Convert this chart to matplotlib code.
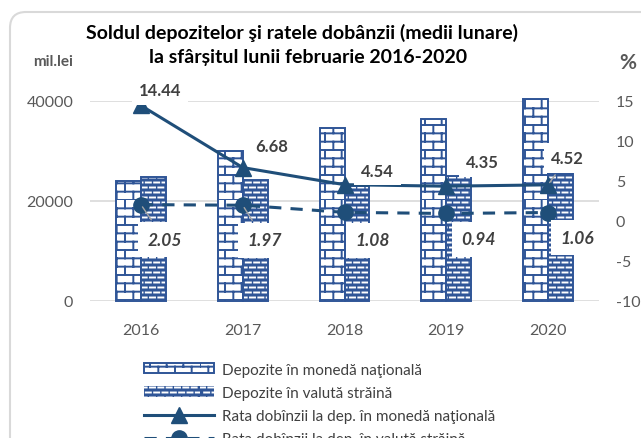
import warnings
import matplotlib
matplotlib.use("Agg")
import matplotlib.pyplot as plt
import numpy as np
from matplotlib import hatch as mhatch
from matplotlib.path import Path
from matplotlib.patches import FancyBboxPatch, Patch
from matplotlib.lines import Line2D
from matplotlib.transforms import IdentityTransform

warnings.filterwarnings("ignore")

plt.rcParams['font.family'] = ['Lato', 'DejaVu Sans']
plt.rcParams['hatch.linewidth'] = 1.4
plt.rcParams['axes.unicode_minus'] = False

# data
years = ["2016", "2017", "2018", "2019", "2020"]
dep_national = [24000, 30000, 34700, 36400, 40500]
dep_foreign = [24900, 24300, 23000, 25100, 25700]
rate_national = [14.44, 6.68, 4.54, 4.35, 4.52]
rate_foreign = [2.05, 1.97, 1.08, 0.94, 1.06]

# label offsets in pixels (layout only)
off_national = [(19, 15), (29, 22), (33, 14), (36, 24), (19, 27)]
off_foreign = [(24, -35), (22, -35), (28, -28), (32, -26), (29, -25)]

blue = "#2F5597"
dark = "#1F4E79"
grey_txt = "#404040"
tick_txt = "#595959"


# custom hatches: 'B' = bricks, 'W' = rows of short dashes
class BrickHatch(mhatch.HatchPatternBase):
    rows, cols = 12, 6

    def __init__(self, hatch, density):
        self.on = "B" in hatch
        self.num_vertices = (self.rows * 2 + self.rows * self.cols * 2) if self.on else 0

    def set_vertices_and_codes(self, vertices, codes):
        pts = []
        for r in range(self.rows):
            y = r / self.rows
            pts += [(0.0, y), (1.0, y)]
            shift = (r % 2) / (2 * self.cols)
            for j in range(self.cols):
                xv = j / self.cols + shift
                pts += [(xv, y), (xv, y + 1 / self.rows)]
        vertices[:] = pts
        codes[0::2] = Path.MOVETO
        codes[1::2] = Path.LINETO


class DashHatch(mhatch.HatchPatternBase):
    rows, cols, seg = 20, 12, 0.05

    def __init__(self, hatch, density):
        self.on = "W" in hatch
        self.num_vertices = self.rows * self.cols * 2 if self.on else 0

    def set_vertices_and_codes(self, vertices, codes):
        pts = []
        for r in range(self.rows):
            y = (r + 0.5) / self.rows
            shift = (r % 2) / (2 * self.cols)
            for j in range(self.cols):
                x0 = j / self.cols + shift
                pts += [(x0, y), (x0 + self.seg, y)]
        vertices[:] = pts
        codes[0::2] = Path.MOVETO
        codes[1::2] = Path.LINETO


mhatch._hatch_types.extend([BrickHatch, DashHatch])

fig = plt.figure(figsize=(6.41, 4.39), dpi=100)
ax = fig.add_axes([90 / 641, 137 / 439, 509 / 641, 200 / 439])
ax2 = ax.twinx()

x = np.arange(len(years))
w = 0.245

# national deposits: bricks
ax.bar(x - w / 2, dep_national, w, facecolor="white", edgecolor=blue,
       hatch="B", linewidth=1.4, zorder=2, clip_on=False)
# foreign deposits: blue with white dashes
ax.bar(x + w / 2, dep_foreign, w, facecolor=blue, edgecolor="white",
       hatch="W", linewidth=0, zorder=2, clip_on=False)
ax.bar(x + w / 2, dep_foreign, w, fill=False, edgecolor=blue,
       linewidth=1.4, zorder=2, clip_on=False)

ax.set_xlim(-0.5, len(years) - 0.5)
ax.set_ylim(0, 40000)
ax.set_yticks([0, 20000, 40000])
ax.set_xticks(x)
ax.set_xticklabels(years)
ax.grid(axis="y", color="#D9D9D9", linewidth=1.2, zorder=0)
ax.set_axisbelow(True)
for s in ax.spines.values():
    s.set_visible(False)
ax.tick_params(axis="both", length=0, labelsize=11.5, colors=tick_txt)
ax.tick_params(axis="x", pad=16)
ax.tick_params(axis="y", pad=12)

ax2.plot(x, rate_national, color=dark, linewidth=2.2, marker="^",
         markersize=11, zorder=4, clip_on=False)
ax2.plot(x, rate_foreign, color=dark, linewidth=2.2, linestyle=(0, (4, 3)),
         marker="o", markersize=11, zorder=4, clip_on=False)
ax2.set_ylim(-10, 15)
ax2.set_yticks([-10, -5, 0, 5, 10, 15])
for s in ax2.spines.values():
    s.set_visible(False)
ax2.tick_params(axis="y", length=0, labelsize=11.5, colors=tick_txt, pad=12)

for i, v in enumerate(rate_national):
    dx, dy = off_national[i]
    arrow = dict(arrowstyle="-", color="#A6A6A6", lw=1) if i == 4 else None
    ax2.annotate(f"{v:.2f}", (x[i], v), xytext=(dx, dy),
                 textcoords="offset pixels", ha="center", va="center",
                 fontsize=12, fontweight="bold", color=grey_txt,
                 bbox=dict(boxstyle="square,pad=0.4", facecolor="white",
                           edgecolor="none"),
                 arrowprops=arrow, zorder=5)
for i, v in enumerate(rate_foreign):
    dx, dy = off_foreign[i]
    arrow = dict(arrowstyle="-", color="#A6A6A6", lw=1) if i < 2 else None
    ax2.annotate(f"{v:.2f}", (x[i], v), xytext=(dx, dy),
                 textcoords="offset pixels", ha="center", va="center",
                 fontsize=12.5, fontweight="bold", fontstyle="italic",
                 color=grey_txt, bbox=dict(boxstyle="square,pad=0.55",
                 facecolor="white", edgecolor="none"),
                 arrowprops=arrow, zorder=5)

fig.text(302 / 641, 1 - 33 / 439, "Soldul depozitelor şi ratele dobânzii (medii lunare)",
         ha="center", va="center", fontsize=14, fontweight="bold", color="black")
fig.text(308 / 641, 1 - 57 / 439, "la sfârșitul lunii februarie 2016-2020",
         ha="center", va="center", fontsize=14, fontweight="bold", color="black")
fig.text(53 / 641, 1 - 62 / 439, "mil.lei", ha="center", va="center",
         fontsize=11, fontweight="bold", color=tick_txt)
fig.text(628 / 641, 1 - 63 / 439, "%", ha="center", va="center",
         fontsize=15, fontweight="bold", color=tick_txt)

handles = [
    Patch(facecolor="white", edgecolor=blue, hatch="B", linewidth=1.4),
    Patch(facecolor=blue, edgecolor="white", hatch="W", linewidth=0),
    Line2D([], [], color=dark, linewidth=2.2, marker="^", markersize=11),
    Line2D([], [], color=dark, linewidth=2.2, linestyle=(0, (4, 3)),
           marker="o", markersize=11),
]
labels = ["Depozite în monedă naţională", "Depozite în valută străină",
          "Rata dobînzii la dep. în monedă naţională",
          "Rata dobînzii la dep. în valută străină"]
leg = fig.legend(handles, labels, loc="upper left",
                 bbox_to_anchor=(130 / 641, 1 - 350 / 439), frameon=False,
                 fontsize=11, handlelength=4.6, handleheight=0.65,
                 labelspacing=0.6, handletextpad=0.5, labelcolor=grey_txt)

border = FancyBboxPatch((10, -20), 650, 446,
                        boxstyle="round,pad=0,rounding_size=16",
                        transform=IdentityTransform(), facecolor="none",
                        edgecolor="#D9D9D9", linewidth=1.5)
fig.patches.append(border)

fig.savefig("out.png", dpi=100)
